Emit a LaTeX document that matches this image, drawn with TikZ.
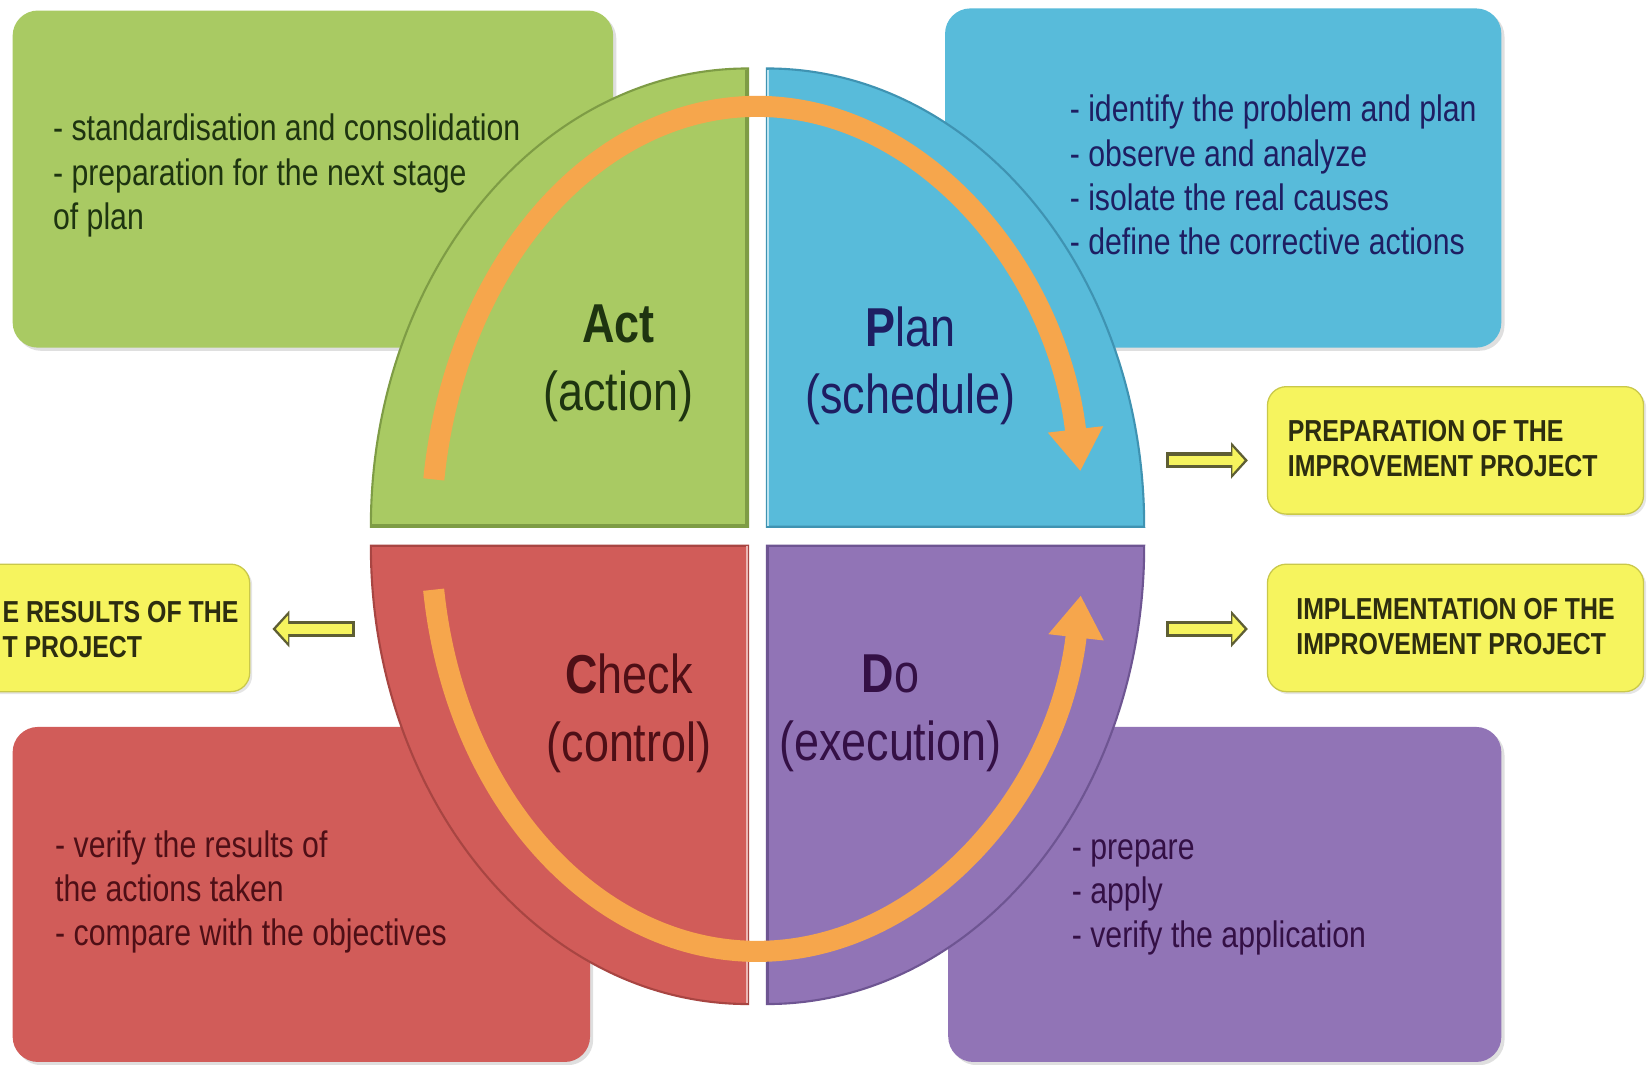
\documentclass[tikz,border=0pt]{standalone}
\usepackage{fontspec}
\setmainfont{Liberation Sans}[FakeStretch=0.82]
\usetikzlibrary{arrows.meta,shadows}
\definecolor{gfill}{HTML}{A9CA63}
\definecolor{gline}{HTML}{7E9C45}
\definecolor{bfill}{HTML}{58BBDA}
\definecolor{bline}{HTML}{3F93B2}
\definecolor{rfill}{HTML}{D15C59}
\definecolor{rline}{HTML}{A84542}
\definecolor{pfill}{HTML}{9174B6}
\definecolor{pline}{HTML}{6E5592}
\definecolor{yfill}{HTML}{F6F45E}
\definecolor{yline}{HTML}{C9C84A}
\definecolor{ydark}{HTML}{5E5E34}
\definecolor{orng}{HTML}{F6A64C}
\definecolor{gtext}{HTML}{1E3410}
\definecolor{btext}{HTML}{1E1E62}
\definecolor{rtext}{HTML}{4E0F16}
\definecolor{ptext}{HTML}{341045}
\definecolor{ytext}{HTML}{2D2D10}
\begin{document}
\begin{tikzpicture}[x=0.5pt,y=0.5pt,
  bigbox/.style={rectangle, rounded corners=12pt, draw=none, inner sep=0pt,
    drop shadow={shadow xshift=1.5pt, shadow yshift=-1.5pt, opacity=0.25}},
  ybox/.style={rectangle, rounded corners=9pt, fill=yfill, draw=yline, line width=0.6pt,
    minimum height=60.5pt, inner sep=0pt,
    drop shadow={shadow xshift=1.2pt, shadow yshift=-1.2pt, opacity=0.2}},
  bodytext/.style={anchor=north west, align=left, inner sep=0pt,
    font=\fontsize{17.5}{21}\selectfont},
  titletext/.style={align=center, inner sep=0pt, font=\fontsize{26}{32}\selectfont},
  ytextstyle/.style={anchor=west, align=left, inner sep=0pt, text=ytext,
    font=\bfseries\fontsize{14.4}{16.5}\selectfont},
  quad/.style={line width=1pt},
  orarc/.style={draw=orng, line width=10pt, -{Triangle[length=20pt,width=25pt]}},
  yarrowout/.style={draw=ydark, line width=7.5pt, -{Triangle[length=8pt,width=17pt]}},
  yarrowin/.style={draw=yfill, line width=4.6pt, -{Triangle[length=5.8pt,width=12.5pt]},
    shorten <=1.4pt},
]
\useasboundingbox (0,0) rectangle (1568,1010);
\fill[white] (0,0) rectangle (1568,1010);

% side boxes
\node[bigbox, fill=gfill, minimum width=285pt, minimum height=160pt] (actbox) at (297,840) {};
\node[bigbox, fill=bfill, minimum width=264pt, minimum height=161pt] (planbox) at (1161,841) {};
\node[bigbox, fill=rfill, minimum width=274pt, minimum height=159pt] (checkbox) at (286,161) {};
\node[bigbox, fill=pfill, minimum width=262.5pt, minimum height=159pt] (dobox) at (1162.5,161) {};

% yellow boxes
\node[ybox, minimum width=178.5pt] (prep) at (1381.5,582.5) {};
\node[ybox, minimum width=178.5pt] (impl) at (1381.5,414) {};
\node[ybox, minimum width=134pt] (resl) at (103,414) {};

% quadrants
\filldraw[quad, fill=gfill, draw=gline] (710,510) -- (352,510)
  arc[start angle=180, end angle=90, x radius=358, y radius=435] -- cycle;
\filldraw[quad, fill=bfill, draw=bline] (728,510) -- (1086,510)
  arc[start angle=0, end angle=90, x radius=358, y radius=435] -- cycle;
\filldraw[quad, fill=rfill, draw=rline] (710,492) -- (352,492)
  arc[start angle=180, end angle=270, x radius=358, y radius=435] -- cycle;
\filldraw[quad, fill=pfill, draw=pline] (728,492) -- (1086,492)
  arc[start angle=0, end angle=-90, x radius=358, y radius=435] -- cycle;
% bevel edges
\draw[gline, line width=1.6pt] (352,511) -- (709,511) -- (709,944);
\draw[white!60!bfill, line width=1.2pt] (729,511) -- (729,944);
\draw[white!55!rfill, line width=1.4pt] (709,492) -- (709,58);
\draw[pline, line width=1.2pt] (729,492) -- (729,58);

% orange cycle arrows
\draw[orarc] (719,501) ++(172.4:310 and 408)
  arc[start angle=172.4, end angle=8.7, x radius=310, y radius=408];
\draw[orarc] (719,501) ++(187.4:310 and 394)
  arc[start angle=187.4, end angle=351.8, x radius=310, y radius=394];

% titles
\node[titletext, text=gtext] (acttitle) at (587,665) {\textbf{Act}\\(action)};
\node[titletext, text=btext] (plantitle) at (864,663) {\textbf{P}lan\\(schedule)};
\node[titletext, text=rtext] (checktitle) at (597,333) {\textbf{C}heck\\(control)};
\node[titletext, text=ptext] (dotitle) at (845,333) {\textbf{D}o\\(execution)};

% body texts
\node[bodytext, text=gtext] (acttext) at (50,906)
  {\strut- standardisation and consolidation\\\strut- preparation for the next stage\\\strut of plan};
\node[bodytext, text=btext] (plantext) at (1015,924)
  {\strut- identify the problem and plan\\\strut- observe and analyze\\\strut- isolate the real causes\\\strut- define the corrective actions};
\node[bodytext, text=rtext] (checktext) at (52,226)
  {\strut- verify the results of\\\strut the actions taken\\\strut- compare with the objectives};
\node[bodytext, text=ptext] (dotext) at (1017,224)
  {\strut- prepare\\\strut- apply\\\strut- verify the application};

% yellow texts
\node[ytextstyle] (preptext) at (1222,584) {PREPARATION OF THE\\IMPROVEMENT PROJECT};
\node[ytextstyle] (impltext) at (1230,415.5) {IMPLEMENTATION OF THE\\IMPROVEMENT PROJECT};
\node[ytextstyle] (resltext) at (2,412.5) {E RESULTS OF THE\\T PROJECT};

% yellow connectors
\coordinate (planout) at (1107,573);
\coordinate (doout) at (1107,413);
\coordinate (checkout) at (337,413);
\draw[yarrowout, shorten >=9pt] (planout) -- (prep.west |- planout);
\draw[yarrowin, shorten >=10.6pt] (planout) -- (prep.west |- planout);
\draw[yarrowout, shorten >=9pt] (doout) -- (impl.west |- doout);
\draw[yarrowin, shorten >=10.6pt] (doout) -- (impl.west |- doout);
\draw[yarrowout, shorten >=10.5pt] (checkout) -- (resl.east |- checkout);
\draw[yarrowin, shorten >=12.1pt] (checkout) -- (resl.east |- checkout);
\end{tikzpicture}
\end{document}
